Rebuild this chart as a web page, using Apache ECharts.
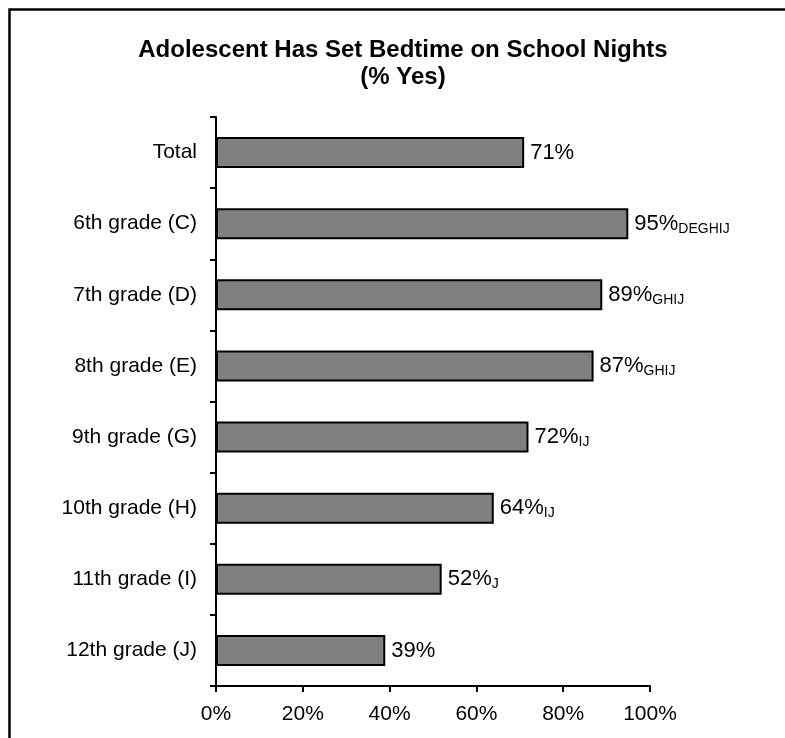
<!DOCTYPE html>
<html>
<head>
<meta charset="utf-8">
<script src="https://cdn.jsdelivr.net/npm/echarts@6/dist/echarts.min.js"></script>
<style>
html,body{margin:0;padding:0;background:#fff;}
#chart{width:785px;height:738px;}
</style>
</head>
<body>
<div id="chart"></div>
<script>
const titleLines = ['Adolescent Has Set Bedtime on School Nights', '(% Yes)'];
const categories = ['Total', '6th grade (C)', '7th grade (D)', '8th grade (E)', '9th grade (G)', '10th grade (H)', '11th grade (I)', '12th grade (J)'];
const values = [71, 95, 89, 87, 72, 64, 52, 39];
const sigLetters = ['', 'DEGHIJ', 'GHIJ', 'GHIJ', 'IJ', 'IJ', 'J', ''];
const xTicks = [0, 20, 40, 60, 80, 100];

const FONT = '"Liberation Sans", Arial, Helvetica, sans-serif';
const chart = echarts.init(document.getElementById('chart'), null, {renderer: 'canvas'});

chart.setOption({
  animation: false,
  backgroundColor: '#fff',
  title: {
    text: titleLines.join('\n'),
    left: 398,
    top: 32,
    textAlign: 'center',
    textStyle: {fontFamily: FONT, fontSize: 24, fontWeight: 'bold', color: '#000', lineHeight: 27}
  },
  graphic: [{
    type: 'rect',
    left: 7, top: 7,
    shape: {x: 0, y: 0, width: 820, height: 800},
    style: {fill: 'none', stroke: '#000', lineWidth: 2.5},
    silent: true
  }],
  grid: {left: 216, right: 135, top: 117, bottom: 52, containLabel: false},
  xAxis: {
    type: 'value',
    min: xTicks[0],
    max: xTicks[xTicks.length - 1],
    interval: 20,
    axisLine: {show: true, lineStyle: {color: '#000', width: 2}},
    axisTick: {show: true, length: 6, lineStyle: {color: '#000', width: 2}},
    splitLine: {show: false},
    axisLabel: {formatter: '{value}%', fontFamily: FONT, fontSize: 21, color: '#000', margin: 18}
  },
  yAxis: {
    type: 'category',
    inverse: true,
    data: categories,
    axisLine: {show: true, lineStyle: {color: '#000', width: 2}},
    axisTick: {show: true, length: 6, interval: 0, lineStyle: {color: '#000', width: 2}},
    axisLabel: {fontFamily: FONT, fontSize: 21, color: '#000', margin: 19}
  },
  series: [{
    type: 'bar',
    data: values,
    barWidth: 31,
    itemStyle: {color: '#808080', borderColor: '#000', borderWidth: 2},
    label: {
      show: true,
      position: 'right',
      distance: 6,
      formatter: function (p) {
        const s = sigLetters[p.dataIndex];
        return '{m|' + p.value + '%}' + (s ? '{s|' + s + '}' : '');
      },
      rich: {
        m: {fontFamily: FONT, fontSize: 22, color: '#000', lineHeight: 24},
        s: {fontFamily: FONT, fontSize: 14, color: '#000', lineHeight: 8, verticalAlign: 'bottom'}
      }
    }
  }]
});
</script>
</body>
</html>
